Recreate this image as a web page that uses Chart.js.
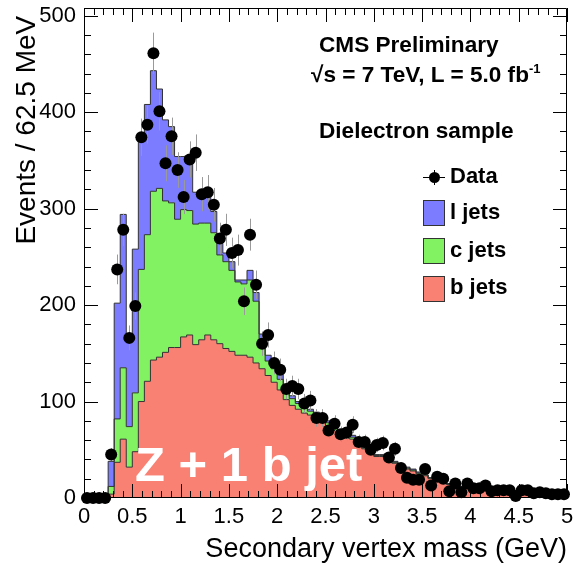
<!DOCTYPE html>
<html>
<head>
<meta charset="utf-8">
<script src="https://cdn.jsdelivr.net/npm/chart.js@4.4.1/dist/chart.umd.min.js"></script>
<style>
  body { margin: 0; background: #fff; }
  #wrap { position: relative; width: 573px; height: 566px; font-family: "Liberation Sans", Arial, sans-serif; }
  .txt { position: absolute; white-space: nowrap; line-height: 1; color: #000; font-weight: bold; font-size: 22.6px; }
  .txt sup { font-size: 13px; vertical-align: 9px; line-height: 0; }
  .leg { font-size: 22px; }
  .big { color: #fff; font-size: 49px; }
</style>
</head>
<body>
<div id="wrap">
  <canvas id="svMass" width="573" height="566"></canvas>
  <div class="txt" style="left:319px; top:34px;">CMS Preliminary</div>
  <div class="txt" style="left:311px; top:64px;">√s = 7 TeV, L = 5.0 fb<sup>-1</sup></div>
  <div class="txt" style="left:319px; top:120px;">Dielectron sample</div>
  <div class="txt leg" style="left:450px; top:165px;">Data</div>
  <div class="txt leg" style="left:450px; top:201px;">l jets</div>
  <div class="txt leg" style="left:450px; top:239px;">c jets</div>
  <div class="txt leg" style="left:450px; top:276px;">b jets</div>
  <div class="txt big" style="left:135px; top:440px;">Z + 1 b jet</div>
</div>
<script>
// 80 bins of 62.5 MeV from 0 to 5 GeV
const binWidth = 0.0625;
const binLow = Array.from({ length: 80 }, (_, i) => i * binWidth);

const xTickValues = [0, 0.5, 1, 1.5, 2, 2.5, 3, 3.5, 4, 4.5, 5];
const yTickValues = [0, 100, 200, 300, 400, 500];

const bJets = [
  0, 0, 0, 0, 4, 37, 61, 32, 48, 100,
  121, 143, 146, 151, 156, 156, 167, 169, 159, 164,
  169, 164, 160, 155, 152, 148, 148, 146, 140, 134,
  127, 120, 112, 102, 96, 92, 88, 86, 83, 80,
  75, 70, 66, 62, 61, 56, 51, 46, 43, 43,
  38, 36, 32, 30, 28, 25, 23, 20, 19, 16,
  14, 12, 11, 10, 9, 9, 8, 7, 7, 6,
  6, 5, 5, 4, 4, 4, 3, 3, 3, 2,
];
const cJets = [
  0, 0, 0, 0, 8, 45, 74, 42, 61, 137,
  152, 175, 175, 157, 150, 133, 132, 129, 125, 121,
  116, 111, 92, 90, 84, 76, 74, 80, 64, 30,
  15, 14, 11, 8, 7, 6, 5, 4, 4, 4,
  3, 3, 3, 3, 2, 2, 1, 1, 1, 1,
  1, 1, 1, 1, 1, 1, 1, 1, 1, 1,
  1, 1, 1, 1, 1, 1, 1, 1, 1, 1,
  1, 1, 1, 1, 1, 1, 1, 1, 1, 1,
];
const lightJets = [
  0, 0, 0, 0, 26, 120, 159, 87, 149, 138,
  135, 125, 103, 84, 79, 65, 55, 56, 33, 32,
  31, 22, 12, 9, 9, 2, 4, 10, 9, 6,
  6, 6, 5, 3, 3, 2, 2, 2, 2, 2,
  2, 2, 2, 2, 2, 2, 1, 1, 1, 1,
  1, 1, 1, 1, 1, 1, 0, 0, 0, 0,
  0, 0, 0, 0, 0, 0, 0, 0, 0, 0,
  0, 0, 0, 0, 0, 0, 0, 0, 0, 0,
];
const dataCounts = [
  0, 0, 0, 0, 45, 237, 278, 166, 199, 374,
  387, 461, 401, 347, 375, 340, 312, 351, 358, 315,
  317, 304, 269, 278, 254, 257, 204, 273, 221, 160,
  169, 140, 133, 113, 116, 113, 98, 101, 83, 83,
  70, 77, 66, 68, 76, 58, 58, 50, 55, 57,
  42, 51, 31, 21, 19, 19, 30, 13, 22, 20,
  7, 15, 6, 15, 10, 10, 13, 7, 8, 8,
  8, 2, 8, 8, 5, 6, 5, 4, 4, 4,
];

const colB = "#f98173";
const colC = "#82f263";
const colL = "#7b7cff";
const outline = "#333";

// stacked sums, b at the bottom
const stackB = bJets.slice();
const stackC = stackB.map((v, i) => v + cJets[i]);
const stackL = stackC.map((v, i) => v + lightJets[i]);

function steps(values) {
  const pts = values.map((v, i) => ({ x: binLow[i], y: v }));
  pts.push({ x: 5, y: values[values.length - 1] });
  return pts;
}

const axesAndErrors = {
  id: "axesAndErrors",
  beforeDatasetDraw(chart, args) {
    if (args.index !== 3) return;
    const { ctx, scales: { x, y } } = chart;
    ctx.save();
    ctx.strokeStyle = "#9a9a9a";
    ctx.lineWidth = 1;
    ctx.beginPath();
    dataCounts.forEach((n, i) => {
      if (n <= 0) return;
      const px = Math.round(x.getPixelForValue(binLow[i] + binWidth / 2)) + 0.5;
      const err = Math.sqrt(n);
      ctx.moveTo(px, y.getPixelForValue(n + err));
      ctx.lineTo(px, y.getPixelForValue(Math.max(n - err, 0)));
    });
    ctx.stroke();
    ctx.restore();
  },
  afterDatasetsDraw(chart) {
    const { ctx, chartArea: a, scales: { x, y } } = chart;
    ctx.save();
    ctx.strokeStyle = "#000";
    ctx.lineWidth = 1;
    ctx.beginPath();
    // major ticks every 0.5 GeV, minor every 0.1
    for (let k = 0; k <= 50; k++) {
      const px = Math.round(x.getPixelForValue(k / 10)) + 0.5;
      const len = k % 5 === 0 ? 14 : 7;
      ctx.moveTo(px, a.bottom);
      ctx.lineTo(px, a.bottom - len);
      ctx.moveTo(px, a.top);
      ctx.lineTo(px, a.top + len);
    }
    for (let v = 0; v <= 500; v += 20) {
      const py = Math.round(y.getPixelForValue(v)) + 0.5;
      const len = v % 100 === 0 ? 14 : 7;
      ctx.moveTo(a.left, py);
      ctx.lineTo(a.left + len, py);
      ctx.moveTo(a.right, py);
      ctx.lineTo(a.right - len, py);
    }
    ctx.rect(a.left + 0.5, a.top + 0.5, a.right - a.left - 1, a.bottom - a.top - 1);
    ctx.stroke();
    ctx.restore();
  },
  afterDraw(chart) {
    const ctx = chart.ctx;
    ctx.save();
    // legend: data marker
    ctx.strokeStyle = "#000";
    ctx.lineWidth = 1;
    ctx.beginPath();
    ctx.moveTo(423, 177.5);
    ctx.lineTo(445, 177.5);
    ctx.moveTo(434.5, 170);
    ctx.lineTo(434.5, 185);
    ctx.stroke();
    ctx.fillStyle = "#000";
    ctx.beginPath();
    ctx.arc(434.5, 177.5, 5.5, 0, Math.PI * 2);
    ctx.fill();
    // legend: fill boxes
    [[colL, 200], [colC, 238], [colB, 276]].forEach(([c, top]) => {
      ctx.fillStyle = c;
      ctx.fillRect(423, top, 22, 26);
      ctx.strokeStyle = outline;
      ctx.strokeRect(423.5, top + 0.5, 21, 25);
    });
    ctx.restore();
  },
};

Chart.defaults.font.family = '"Liberation Sans", Arial, sans-serif';
Chart.defaults.color = "#000";

const ctx = document.getElementById("svMass").getContext("2d");

new Chart(ctx, {
  type: "line",
  data: {
    datasets: [
      {
        label: "b jets",
        data: steps(stackB),
        stepped: true,
        fill: "origin",
        backgroundColor: colB,
        borderColor: outline,
        borderWidth: 1,
        pointRadius: 0,
        order: 1,
      },
      {
        label: "c jets",
        data: steps(stackC),
        stepped: true,
        fill: "-1",
        backgroundColor: colC,
        borderColor: outline,
        borderWidth: 1,
        pointRadius: 0,
        order: 2,
      },
      {
        label: "l jets",
        data: steps(stackL),
        stepped: true,
        fill: "-1",
        backgroundColor: colL,
        borderColor: outline,
        borderWidth: 1,
        pointRadius: 0,
        order: 3,
      },
      {
        label: "Data",
        data: dataCounts.map((n, i) => ({ x: binLow[i] + binWidth / 2, y: n })),
        showLine: false,
        pointRadius: 6,
        pointBackgroundColor: "#000",
        pointBorderWidth: 0,
        clip: false,
        order: 0,
      },
    ],
  },
  options: {
    responsive: false,
    animation: false,
    devicePixelRatio: 1,
    layout: { padding: { top: 8, right: 2, left: 0, bottom: 0 } },
    plugins: {
      legend: { display: false },
      tooltip: { enabled: false },
      filler: { drawTime: "beforeDatasetsDraw" },
    },
    scales: {
      x: {
        type: "linear",
        min: 0,
        max: 5,
        grid: { display: false, drawTicks: false },
        border: { display: false },
        afterBuildTicks(scale) {
          scale.ticks = xTickValues.map((value) => ({ value }));
        },
        ticks: {
          padding: 6,
          maxRotation: 0,
          autoSkip: false,
          font: { size: 22 },
          callback: (v) => String(v),
        },
        title: {
          display: true,
          text: "Secondary vertex mass (GeV)",
          align: "end",
          font: { size: 27 },
          padding: { top: 0, bottom: 0 },
        },
        afterFit(scale) {
          scale.height = 68;
          scale.paddingLeft = 0;
          scale.paddingRight = 0;
        },
      },
      y: {
        min: 0,
        max: 508,
        grid: { display: false, drawTicks: false },
        border: { display: false },
        afterBuildTicks(scale) {
          scale.ticks = yTickValues.map((value) => ({ value }));
        },
        ticks: {
          padding: 8,
          autoSkip: false,
          font: { size: 22 },
          callback: (v) => String(v),
        },
        title: {
          display: true,
          // trailing space keeps the title clear of the top edge
          text: "Events / 62.5 MeV ",
          align: "end",
          font: { size: 28 },
          padding: { top: 10, bottom: 0 },
        },
        afterFit(scale) {
          scale.width = 84;
          scale.paddingTop = 0;
          scale.paddingBottom = 0;
        },
      },
    },
  },
  plugins: [axesAndErrors],
});
</script>
</body>
</html>
